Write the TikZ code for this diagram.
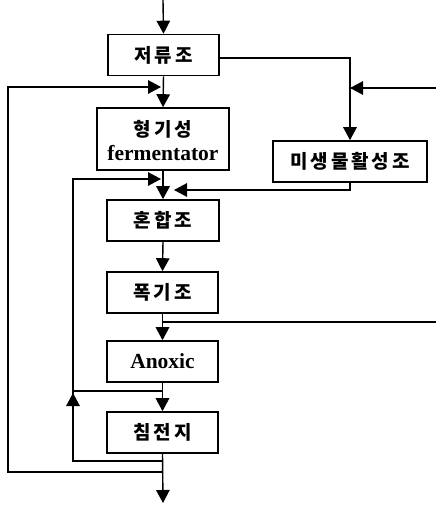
\documentclass[tikz,border=0pt]{standalone}
\usepackage{fontspec}
\usetikzlibrary{arrows.meta}
\newfontfamily\kr{Noto Sans CJK KR}[LetterSpace=15]
\newfontfamily\lat{Liberation Serif}
\tikzset{
  box/.style={draw,line width=1.6pt,minimum height=41pt,inner sep=0pt,align=center},
  krt/.style={font=\kr\bfseries\fontsize{19}{22}\selectfont},
  lt/.style={font=\lat\bfseries\fontsize{21.5}{22}\selectfont},
  arr/.style={-{Triangle[length=13pt,width=13.5pt]}},
  ln/.style={line width=1.4pt}
}
\begin{document}
\begin{tikzpicture}[x=1pt,y=-1pt,ln]
\useasboundingbox (0,0) rectangle (436,512);
\node[box,krt,minimum width=111pt] (A) at (163.5,55) {저류조};
\node[box,minimum width=132pt,minimum height=62pt] (B) at (163,139) {};
\node[krt] (B1) at (163,129) {형기성};
\node[lt] (B2) at (163,153) {fermentator};
\node[box,krt,minimum width=154pt] (C) at (350,161.5) {미생물활성조};
\node[box,krt,minimum width=112pt] (D) at (163,220.5) {혼합조};
\node[box,krt,minimum width=111pt] (E) at (162.5,292.5) {폭기조};
\node[box,lt,minimum width=111pt] (F) at (162.5,361.5) {Anoxic};
\node[box,krt,minimum width=111pt] (G) at (162.5,432.5) {침전지};

\coordinate (in) at (163,0);
\coordinate (Ar) at (350,58);
\coordinate (rin) at (436,88);
\coordinate (rj) at (350,88);
\coordinate (o1) at (163,472);
\coordinate (o2) at (8,472);
\coordinate (o3) at (8,87);
\coordinate (o4) at (161,87);
\coordinate (i1) at (163,461);
\coordinate (i2) at (73,461);
\coordinate (i3) at (73,179);
\coordinate (i4) at (161,179);
\coordinate (ij) at (163,391);
\coordinate (ij2) at (73,391);
\coordinate (ia) at (73,393);
\coordinate (ib) at (73,408);
\coordinate (c1) at (350,190);
\coordinate (c2) at (174,190);
\coordinate (e1) at (163,322);
\coordinate (e2) at (436,322);
\coordinate (out) at (163,503);

\draw[arr] (in) -- (A.north);
\draw[arr] (A.east |- Ar) -- (Ar) -- (C.north);
\draw[arr] (rin) -- (rj);
\draw[arr] (A.south) -- (B.north);
\draw[arr] (B.south) -- (D.north);
\draw[arr] (C.south) -- (c1) -- (c2);
\draw[arr] (D.south) -- (E.north);
\draw[arr] (E.south) -- (F.north);
\draw (e1) -- (e2);
\draw[arr] (F.south) -- (G.north);
\draw (ij) -- (ij2);
\draw[arr] (G.south) -- (out);
\draw[arr] (o1) -- (o2) -- (o3) -- (o4);
\draw[arr] (i1) -- (i2) -- (i3) -- (i4);
\draw[arr] (ib) -- (ia);
\end{tikzpicture}
\end{document}
